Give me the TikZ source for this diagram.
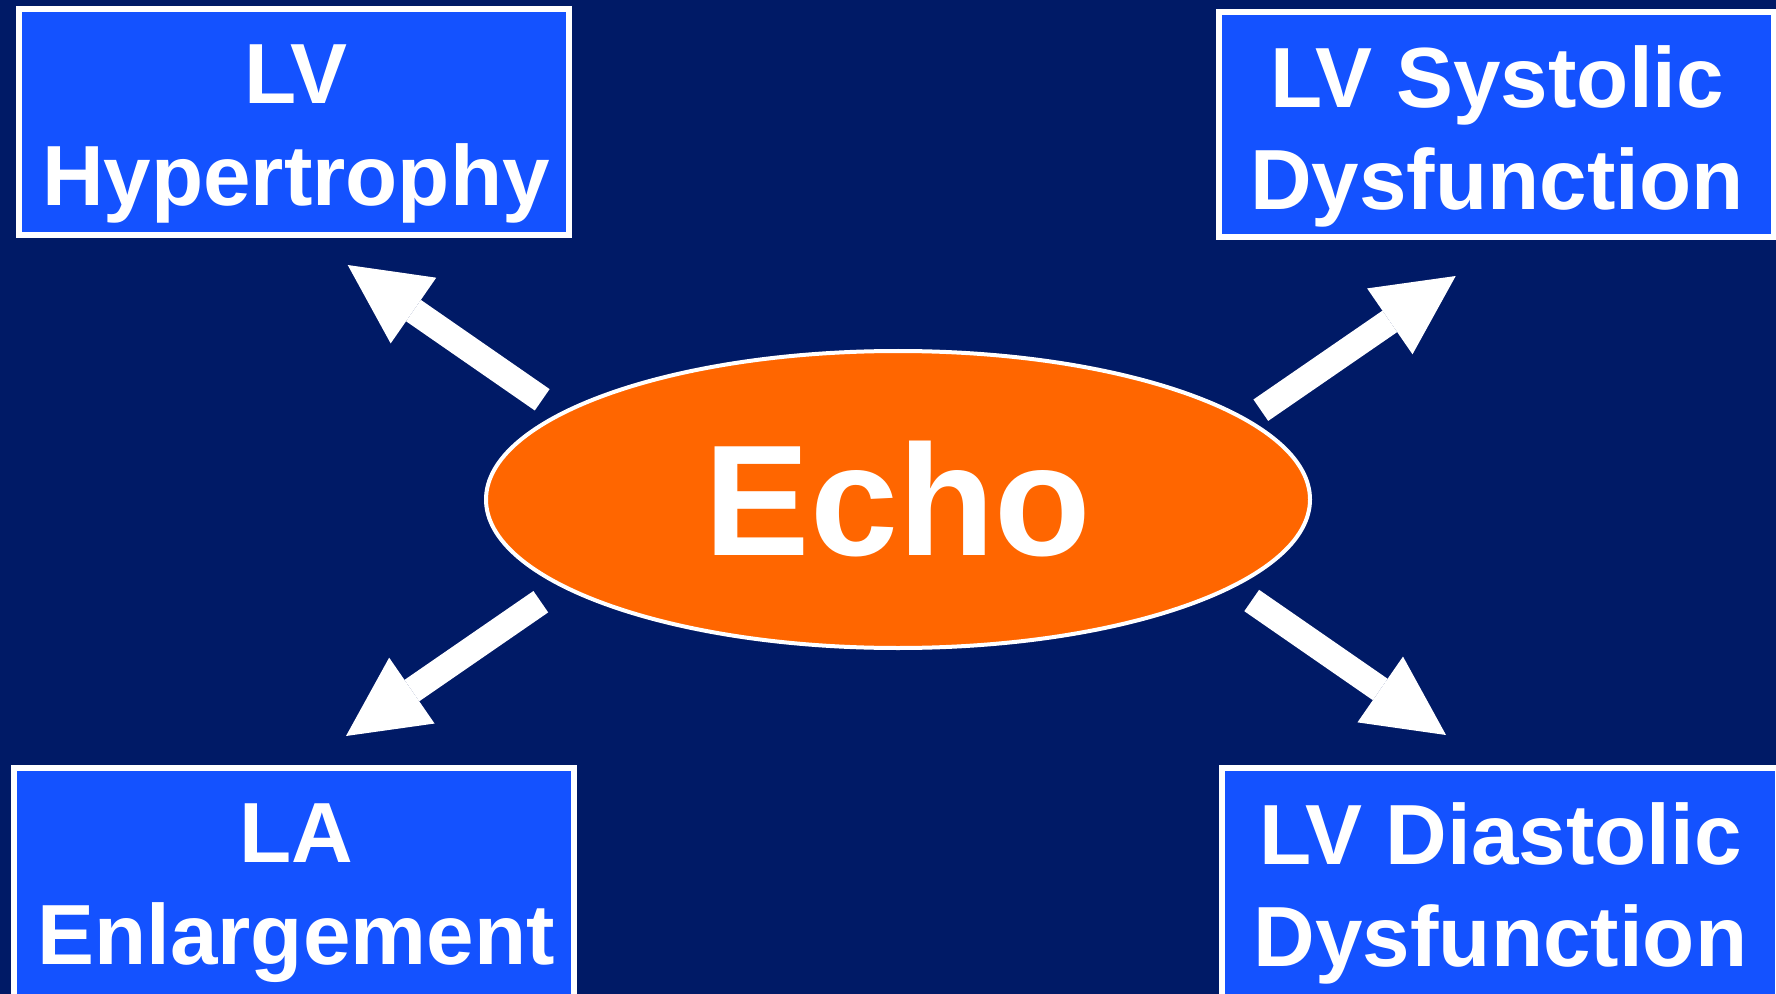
\documentclass[tikz,border=0pt]{standalone}
\usepackage{fontspec}
\setmainfont{Liberation Sans}
\usetikzlibrary{shapes.geometric,arrows.meta}

\definecolor{slidebg}{RGB}{0,26,102}
\definecolor{boxblue}{RGB}{20,82,255}
\definecolor{echoorange}{RGB}{255,102,0}

\begin{document}
\begin{tikzpicture}[
        x=0.5pt, y=-0.5pt,
        box/.style={
            draw=white, line width=3pt, fill=boxblue, inner sep=0pt
        },
        lab/.style={text=white, align=center, inner sep=0pt,
                    font=\bfseries\fontsize{42.7}{51}\selectfont},
        hub/.style={ellipse, draw=white, line width=2pt, fill=echoorange,
                    inner sep=0pt, minimum width=412pt, minimum height=148.5pt,
                    text=white, font=\bfseries\fontsize{79}{90}\selectfont},
        ar/.style={white, line width=13pt,
                   -{Triangle[length=40pt, width=40pt, line width=0pt]}}
    ]
    \useasboundingbox (0,0) rectangle (1776,994);
    \fill[slidebg] (0,0) rectangle (1776,994);

    %% ---- centre ----
    \node[hub] (echo) at (898,499.5) {Echo};

    %% ---- top row ----
    \node[box, minimum width=275.15pt, minimum height=113pt] (lvhbox) at (293.65,122) {};
    \node[lab] (lvh) at (296,134.4) {LV\\Hypertrophy};
    \node[box, minimum width=277.4pt, minimum height=112.75pt] (lvsbox) at (1496.1,124.75) {};
    \node[lab] (lvs) at (1497,136.5) {LV Systolic\\Dysfunction};

    %% ---- bottom row ----
    \node[box, minimum width=280.1pt, minimum height=116.25pt] (labox) at (293.7,883.75) {};
    \node[lab] (lae) at (296,892.8) {LA\\Enlargement};
    \node[box, minimum width=277.8pt, minimum height=116pt] (lvdbox) at (1500.2,884) {};
    \node[lab] (lvd) at (1500.5,893.3) {LV Diastolic\\Dysfunction};

    %% ---- arrows out of the ellipse ----
    \coordinate (lvh-tail) at (542.2,399.8);
    \coordinate (lvh-tip)  at (347.7,265);
    \coordinate (lvs-tail) at (1260.8,410.2);
    \coordinate (lvs-tip)  at (1455.7,276);
    \coordinate (lae-tail) at (540.8,601.7);
    \coordinate (lae-tip)  at (346,736);
    \coordinate (lvd-tail) at (1251.7,600.5);
    \coordinate (lvd-tip)  at (1446,735);

    \draw[ar] (lvh-tail) -- (lvh-tip);
    \draw[ar] (lvs-tail) -- (lvs-tip);
    \draw[ar] (lae-tail) -- (lae-tip);
    \draw[ar] (lvd-tail) -- (lvd-tip);
\end{tikzpicture}
\end{document}
